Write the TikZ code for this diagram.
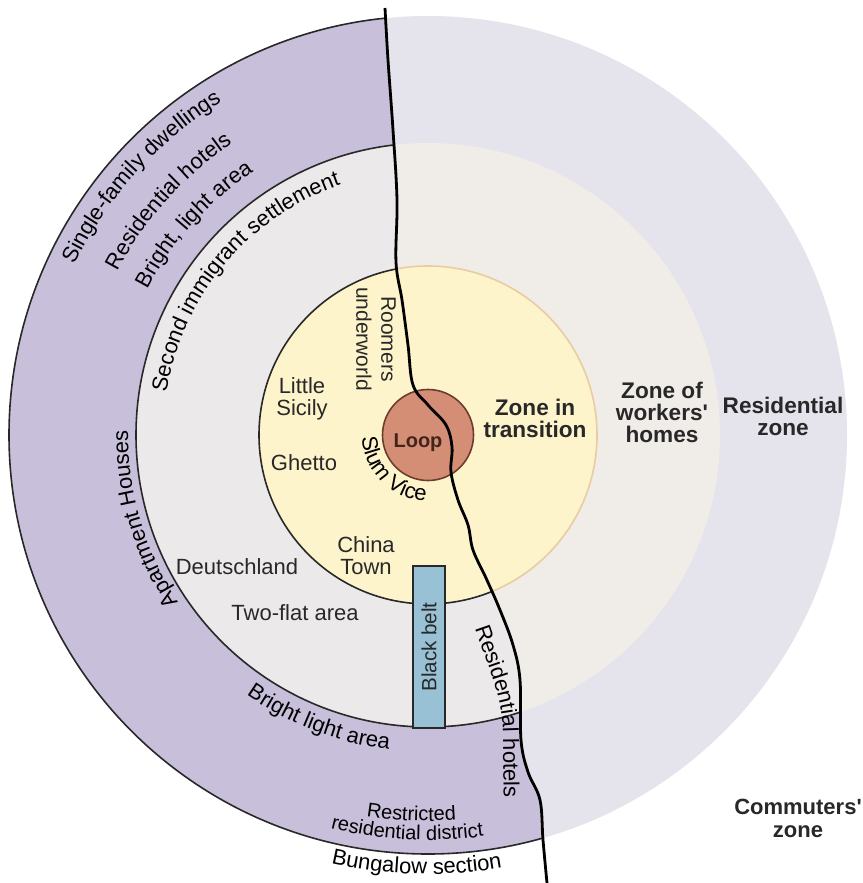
\documentclass[tikz,border=0pt]{standalone}
\usepackage{fontspec}
\setmainfont{Liberation Sans}
\usetikzlibrary{decorations.text}

\definecolor{ink}{RGB}{40,40,40}
\definecolor{purplez}{RGB}{200,191,219}
\definecolor{westgray}{RGB}{236,233,235}
\definecolor{eastwork}{RGB}{240,236,232}
\definecolor{eastres}{RGB}{229,228,236}
\definecolor{yellowz}{RGB}{253,244,204}
\definecolor{tanline}{RGB}{232,205,160}
\definecolor{loopc}{RGB}{212,142,118}
\definecolor{loopline}{RGB}{110,60,45}
\definecolor{beltc}{RGB}{152,193,214}

\newcommand\lblfont{\fontsize{11}{11}\selectfont}
\newcommand\smallfont{\fontsize{10}{10}\selectfont}

\tikzset{
  river/.style={insert path={-- plot[smooth, tension=0.6] coordinates {(385,-8) (388,-60) (393,-130) (397,-200)
    (396,-262) (402,-300) (408,-345) (413,-385) (428,-405) (446,-425) (452,-447) (451,-472) (458,-500)
    (468,-525) (473,-550) (486,-578) (500,-610) (513,-645) (520,-680) (521,-740) (528,-772) (540,-800)
    (543,-840) (547,-883)}}},
  lbl/.style={font=\lblfont, align=center, inner sep=0pt, text=ink},
  zone/.style={lbl, font=\fontsize{11.3}{11}\selectfont\bfseries},
  along/.style={decorate, decoration={text along path, text align=center, text={|\lblfont|#1}}},
  along small/.style={decorate, decoration={text along path, text align=center, text={|\smallfont|#1}}},
  belt/.style={draw=ink, line width=.6pt, fill=beltc, minimum width=81pt, minimum height=16pt,
    inner sep=0pt, font=\fontsize{10.3}{10.3}\selectfont, text=ink},
}

\begin{document}
\begin{tikzpicture}[x=0.5pt, y=0.5pt]

  \useasboundingbox (0,0) rectangle (862,-883);
  \coordinate (c) at (428,-435);

  % zones, east side
  \fill[eastres] (c) circle (419);
  \fill[eastwork] (c) circle (292);
  \filldraw[fill=yellowz, draw=tanline, line width=.8pt] (c) circle (169);

  % zones, west side
  \begin{scope}
    \clip (0,0) -- (385,0) -- (385,-8) [river] -- (0,-883) -- cycle;
    \fill[purplez] (c) circle (419);
    \fill[westgray] (c) circle (292);
    \fill[yellowz] (c) circle (169);
    \draw[ink, line width=.8pt] (c) circle (419) (c) circle (292) (c) circle (169);
  \end{scope}

  \filldraw[fill=loopc, draw=loopline, line width=.8pt] (c) circle (45.5);
  \node (belt) [belt, rotate=90] at (429,-647) {Black belt};

  \draw[black, line width=1.4pt] (385,-8) [river];

  \node (loop) [lbl, font=\fontsize{10}{10}\selectfont\bfseries, text=loopline!60!black] at (418,-443) {Loop};
  \node (sicily) [lbl] at (302,-399) {Little\\Sicily};
  \node (ghetto) [lbl] at (304,-463) {Ghetto};
  \node (china) [lbl] at (366,-556) {China\\Town};
  \node (deutsch) [lbl] at (237,-567) {Deutschland};
  \node (twoflat) [lbl] at (295,-613) {Two-flat area};
  \node (roomers) [lbl, rotate=-90, font=\fontsize{10.5}{12.5}\selectfont] at (376,-339) {Roomers\\underworld};

  \node (transition) [zone] at (535,-418) {Zone in\\transition};
  \node (workers) [zone] at (662,-412) {Zone of\\workers\textquotesingle\\homes};
  \node (residential) [zone] at (783,-416) {Residential\\zone};
  \node (commuters) [zone, font=\fontsize{11}{11.5}\selectfont\bfseries] at (798,-818) {Commuters\textquotesingle\\zone};

  % texts along the rings
  \begin{scope}[shift={(c)}]
    \path[along={Single-family dwellings}] (160:392) arc (160:116:392);
    \path[along={Residential hotels}] (158:351) arc (158:118:351);
    \path[along={Bright, light area}] (158:316) arc (158:118:316);
    \path[along={Second immigrant settlement}] (176:265) arc (176:104:265);
    \path[along={Apartment Houses}] (216:300) arc (216:177:300);
    \path[along={Bright light area}] (233:317) arc (233:265:317);
    \path[along small={Restricted}] (257:386) arc (257:278:386);
    \path[along small={residential district}] (253:405) arc (253:281:405);
    \path[along={Bungalow section}] (256:439) arc (256:281:439);
    \path[along={Slum Vice}] (174:66) arc (174:276:66);
  \end{scope}
  \path[along={Residential hotels}, decoration={text align=left}]
    (475,-628) .. controls (490,-672) and (503,-700) .. (503,-735) -- (504,-815);

\end{tikzpicture}
\end{document}
